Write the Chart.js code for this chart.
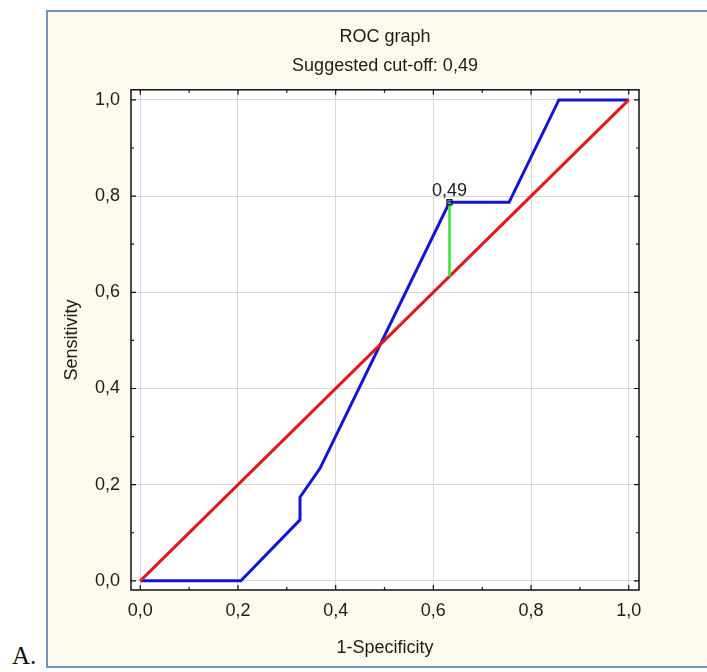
<!DOCTYPE html>
<html>
<head>
<meta charset="utf-8">
<script src="https://cdn.jsdelivr.net/npm/chart.js@4"></script>
<style>
  html, body { margin: 0; padding: 0; background: #fff; }
  body { width: 707px; height: 672px; position: relative; overflow: hidden; }
  .frame {
    position: absolute; left: 46px; top: 10px; width: 700px; height: 654px;
    background: #fcf9ef; border: 2.5px solid #7393bb;
  }
  .tag {
    position: absolute; left: 12px; top: 642px;
    font: 25px "Liberation Serif", "Times New Roman", serif; color: #111;
  }
  #roc { position: absolute; left: 0; top: 0; }
</style>
</head>
<body>
<div class="frame"></div>
<div class="tag">A.</div>
<canvas id="roc" width="707" height="672"></canvas>
<script>
'use strict'

// ROC curve (1-specificity, sensitivity)
const fpr = [0, 0.206, 0.327, 0.327, 0.368, 0.633, 0.755, 0.857, 1.0]
const tpr = [0, 0, 0.127, 0.174, 0.234, 0.787, 0.787, 1.0, 1.0]

// reference diagonal
const diagX = [0, 1]
const diagY = [0, 1]

// suggested cut-off
const cutoff = 0.49
const cutoffX = [0.633, 0.633]
const cutoffY = [0.633, 0.787]

const majorTicks = [0, 0.2, 0.4, 0.6, 0.8, 1.0]
const minorTicks = [0.1, 0.3, 0.5, 0.7, 0.9]

const fmt = v => v.toFixed(1).replace('.', ',')
const cutoffText = cutoff.toFixed(2).replace('.', ',')
const toPoints = (xs, ys) => xs.map((x, i) => ({ x: x, y: ys[i] }))

const font = { family: '"Liberation Sans", Arial, sans-serif', size: 18, weight: 'normal', lineHeight: 1.2 }
const ink = '#1c1c1c'

// white plot area, framed box and inward tick marks on all four sides
const plotFrame = {
  id: 'plotFrame',
  beforeDraw(chart) {
    const { ctx, chartArea: a } = chart
    ctx.save()
    ctx.fillStyle = '#fff'
    ctx.fillRect(a.left, a.top, a.right - a.left, a.bottom - a.top)
    ctx.restore()
  },
  afterDraw(chart) {
    const { ctx, chartArea: a, scales } = chart
    ctx.save()
    ctx.strokeStyle = '#111'
    ctx.lineWidth = 1.5
    ctx.strokeRect(a.left, a.top, a.right - a.left, a.bottom - a.top)
    ctx.lineWidth = 1.2
    const mark = (vals, len) => {
      vals.forEach(v => {
        const px = scales.x.getPixelForValue(v)
        const py = scales.y.getPixelForValue(v)
        ctx.beginPath()
        ctx.moveTo(px, a.bottom); ctx.lineTo(px, a.bottom - len)
        ctx.moveTo(px, a.top); ctx.lineTo(px, a.top + len)
        ctx.moveTo(a.left, py); ctx.lineTo(a.left + len, py)
        ctx.moveTo(a.right, py); ctx.lineTo(a.right - len, py)
        ctx.stroke()
      })
    }
    mark(majorTicks, 5)
    mark(minorTicks, 3)
    ctx.restore()
  }
}

// value label above the cut-off marker
const cutoffLabel = {
  id: 'cutoffLabel',
  afterDatasetsDraw(chart) {
    const { ctx } = chart
    const pt = chart.getDatasetMeta(0).data[0]
    ctx.save()
    ctx.font = '18px "Liberation Sans", Arial, sans-serif'
    ctx.fillStyle = ink
    ctx.textAlign = 'center'
    ctx.textBaseline = 'alphabetic'
    ctx.fillText(cutoffText, pt.x, pt.y - 6)
    ctx.restore()
  }
}

const axis = (title, fit) => ({
  type: 'linear',
  min: -0.019,
  max: 1.021,
  afterBuildTicks: scale => { scale.ticks = majorTicks.map(v => ({ value: v })) },
  afterFit: fit,
  grid: { color: '#d6d6d6', lineWidth: 1, drawTicks: false },
  border: { display: false },
  ticks: { color: ink, font: font, padding: 11, callback: v => fmt(v) },
  title: { display: true, text: title, color: ink, font: font }
})

const xAxis = axis('1-Specificity', s => { s.height = 82 })
xAxis.ticks.padding = 10
xAxis.ticks.maxRotation = 0
xAxis.title.padding = { top: 0, bottom: 13 }

const yAxis = axis('Sensitivity', s => { s.width = 81 })
yAxis.title.padding = { top: 11, bottom: 0 }

new Chart(document.getElementById('roc'), {
  type: 'scatter',
  data: {
    datasets: [
      {
        data: toPoints([cutoffX[1]], [cutoffY[1]]),
        pointStyle: 'rect',
        pointRadius: 3.5,
        pointBorderWidth: 1.5,
        pointBorderColor: '#1f1f50',
        pointBackgroundColor: 'rgba(0,0,0,0)',
        order: 0
      },
      {
        data: toPoints(cutoffX, cutoffY),
        showLine: true,
        borderColor: '#2ee82e',
        borderWidth: 2.5,
        pointRadius: 0,
        order: 1
      },
      {
        data: toPoints(diagX, diagY),
        showLine: true,
        borderColor: '#e01a1a',
        borderWidth: 3,
        pointRadius: 0,
        order: 2
      },
      {
        data: toPoints(fpr, tpr),
        showLine: true,
        borderColor: '#1414d6',
        borderWidth: 3,
        pointRadius: 0,
        order: 3
      }
    ]
  },
  options: {
    responsive: false,
    animation: false,
    layout: { padding: { left: 50, right: 68, top: 0, bottom: 0 } },
    plugins: {
      legend: { display: false },
      tooltip: { enabled: false },
      title: {
        display: true,
        text: 'ROC graph',
        color: ink,
        font: font,
        fullSize: false,
        padding: { top: 26, bottom: 8 }
      },
      subtitle: {
        display: true,
        text: 'Suggested cut-off: ' + cutoffText,
        color: ink,
        font: font,
        fullSize: false,
        padding: { top: 0, bottom: 12.6 }
      }
    },
    scales: { x: xAxis, y: yAxis }
  },
  plugins: [plotFrame, cutoffLabel]
})
</script>
</body>
</html>
